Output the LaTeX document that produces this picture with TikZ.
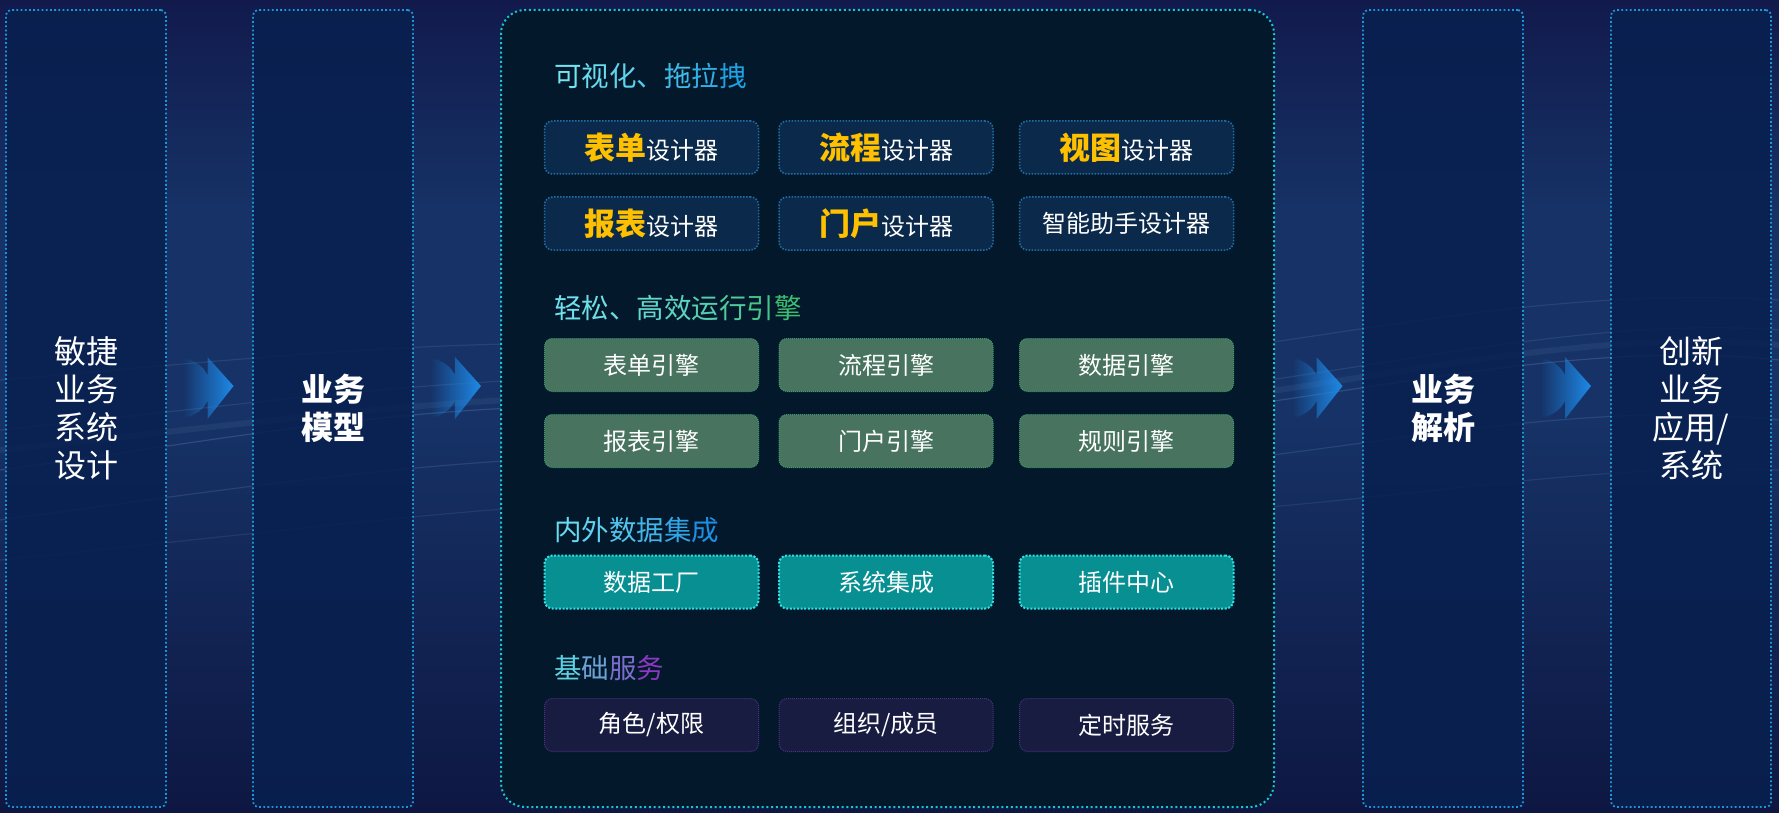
\documentclass[tikz,border=0pt]{standalone}
\usepackage{fontspec}
\setmainfont{Noto Sans CJK SC}
\usetikzlibrary{fadings,calc}
\definecolor{bgtop}{HTML}{121A4C}
\definecolor{bgmid}{HTML}{163266}
\definecolor{bgbot}{HTML}{0E1742}
\definecolor{colfill}{HTML}{08204F}
\definecolor{colborder}{HTML}{1D95D6}
\definecolor{panelfill}{HTML}{03192B}
\definecolor{panelborder}{HTML}{19C5CF}
\definecolor{desfill}{HTML}{0B2A4B}
\definecolor{desborder}{HTML}{1F6FA8}
\definecolor{engfill}{HTML}{47735F}
\definecolor{engborder}{HTML}{3E9F6C}
\definecolor{datfill}{HTML}{078F92}
\definecolor{datborder}{HTML}{2BE3E6}
\definecolor{basfill}{HTML}{181C40}
\definecolor{basborder}{HTML}{4C2F85}
\definecolor{ylw}{HTML}{FFC000}
\definecolor{arrowc}{HTML}{1E8AE8}
\definecolor{streak}{HTML}{9CC4F0}
\definecolor{hAs}{HTML}{74E4F1}
\definecolor{hAe}{HTML}{1FA2E3}
\definecolor{hBs}{HTML}{70E2EF}
\definecolor{hBe}{HTML}{3CBE70}
\definecolor{hCs}{HTML}{68DDF0}
\definecolor{hCe}{HTML}{1E8FE2}
\definecolor{hDs}{HTML}{5ED2E2}
\definecolor{hDe}{HTML}{8B38C2}
\newcommand\gc[4]{\textcolor{#2!#3!#1}{#4}}
\newcommand\des[1]{{\bfseries\color{ylw}\fontsize{31}{31}\selectfont #1}{\fontsize{24}{24}\selectfont 设计器}}
\tikzfading[name=arrowfade, left color=transparent!100, middle color=transparent!35, right color=transparent!0]
\begin{document}
\begin{tikzpicture}[x=1pt,y=-1pt,
  col/.style={draw=colborder, line width=1.8pt, dash pattern=on 1.8pt off 2.4pt,
    fill=colfill, fill opacity=0.85, text opacity=1, rounded corners=5pt,
    minimum width=160pt, minimum height=797pt, inner sep=0pt, text=white,
    align=center, font=\fontsize{32}{38}\selectfont},
  box/.style={rounded corners=8pt, minimum width=214pt, minimum height=53pt,
    inner sep=0pt, text=white, font=\fontsize{24}{24}\selectfont},
  desbox/.style={box, fill=desfill, draw=desborder, line width=1.5pt, dash pattern=on 1.5pt off 1.5pt},
  engbox/.style={box, fill=engfill, draw=engborder, line width=1pt, dash pattern=on 1pt off 1pt},
  datbox/.style={box, fill=datfill, draw=datborder, line width=2pt, dash pattern=on 2pt off 1.6pt},
  basbox/.style={box, fill=basfill, draw=basborder, line width=1pt, dash pattern=on 1pt off 1pt},
  head/.style={anchor=west, inner sep=0pt, font=\fontsize{27.5}{27.5}\selectfont},
  flow/.style={fill=arrowc, path fading=arrowfade}
]
% background
\shade[top color=bgtop, bottom color=bgmid, middle color=bgmid] (0,0) rectangle (1779,420);
\shade[top color=bgmid, bottom color=bgbot] (0,420) rectangle (1779,813);
\useasboundingbox (0,0) rectangle (1779,813);
\begin{scope}[streak, line width=1.2pt]
  \draw[opacity=0.18] (0,470) .. controls (300,430) and (500,380) .. (900,420) .. controls (1200,450) and (1500,330) .. (1779,360);
  \draw[opacity=0.14] (0,520) .. controls (300,480) and (600,430) .. (900,470) .. controls (1200,500) and (1500,390) .. (1779,420);
  \draw[opacity=0.12] (0,380) .. controls (250,360) and (550,320) .. (900,360) .. controls (1200,390) and (1450,280) .. (1779,300);
  \draw[opacity=0.10] (0,560) .. controls (400,520) and (650,480) .. (900,510) .. controls (1250,540) and (1500,460) .. (1779,470);
  \draw[opacity=0.12] (0,430) .. controls (300,400) and (600,350) .. (900,395) .. controls (1200,430) and (1500,310) .. (1779,330);
  \draw[opacity=0.08, line width=6pt] (0,450) .. controls (300,420) and (600,370) .. (900,410) .. controls (1200,440) and (1500,320) .. (1779,345);
\end{scope}

% side columns
\node[col] (c1) at (86,408.5) {敏捷\\业务\\系统\\设计};
\node[col, font=\fontsize{32}{38}\selectfont\bfseries] (c2) at (333,408.5) {业务\\模型};
\node[col, font=\fontsize{32}{38}\selectfont\bfseries] (c4) at (1443,408.5) {业务\\解析};
\node[col] (c5) at (1691,408.5) {创新\\业务\\应用/\\系统};

% central panel
\node[draw=panelborder, line width=2pt, dash pattern=on 2pt off 2.7pt, fill=panelfill,
  rounded corners=24pt, minimum width=773pt, minimum height=797pt, inner sep=0pt] (p) at (887.5,408.5) {};

% flow arrows
\foreach \a/\b/\n in {c1/c2/a1, c2/p/a2, p/c4/a3, c4/c5/a4}{
  \coordinate (\n) at ($(\a.east)!0.5!(\b.west)+(-2,-20.5)$);
  \fill[flow] ($(\n)+(-25,-30)$) .. controls ($(\n)+(-12,-28)$) and ($(\n)+(-4,-21)$) .. ($(\n)+(0,-13)$)
    -- ($(\n)+(0,-31)$) -- ($(\n)+(26,-2)$) -- ($(\n)+(0,31)$) -- ($(\n)+(0,13)$)
    .. controls ($(\n)+(-4,21)$) and ($(\n)+(-12,28)$) .. ($(\n)+(-25,30)$) -- cycle;
}

% headings
\node[head] (h1) at (554,76) {\gc{hAs}{hAe}{0}{可}\gc{hAs}{hAe}{12}{视}\gc{hAs}{hAe}{25}{化}\gc{hAs}{hAe}{40}{、}\gc{hAs}{hAe}{60}{拖}\gc{hAs}{hAe}{80}{拉}\gc{hAs}{hAe}{100}{拽}};
\node[head] (h2) at (554,308) {\gc{hBs}{hBe}{0}{轻}\gc{hBs}{hBe}{8}{松}\gc{hBs}{hBe}{16}{、}\gc{hBs}{hBe}{26}{高}\gc{hBs}{hBe}{38}{效}\gc{hBs}{hBe}{52}{运}\gc{hBs}{hBe}{66}{行}\gc{hBs}{hBe}{82}{引}\gc{hBs}{hBe}{100}{擎}};
\node[head] (h3) at (554,530) {\gc{hCs}{hCe}{0}{内}\gc{hCs}{hCe}{15}{外}\gc{hCs}{hCe}{32}{数}\gc{hCs}{hCe}{50}{据}\gc{hCs}{hCe}{72}{集}\gc{hCs}{hCe}{100}{成}};
\node[head] (h4) at (554,668) {\gc{hDs}{hDe}{0}{基}\gc{hDs}{hDe}{30}{础}\gc{hDs}{hDe}{65}{服}\gc{hDs}{hDe}{100}{务}};

% designer boxes
\node[desbox] (d1) at (651.5,147.5) {\des{表单}};
\node[desbox] (d2) at (886,147.5) {\des{流程}};
\node[desbox] (d3) at (1126.5,147.5) {\des{视图}};
\node[desbox] (d4) at (651.5,223.5) {\des{报表}};
\node[desbox] (d5) at (886,223.5) {\des{门户}};
\node[desbox] (d6) at (1126.5,223.5) {智能助手设计器};

% engine boxes
\node[engbox] (e1) at (651.5,365) {表单引擎};
\node[engbox] (e2) at (886,365) {流程引擎};
\node[engbox] (e3) at (1126.5,365) {数据引擎};
\node[engbox] (e4) at (651.5,441) {报表引擎};
\node[engbox] (e5) at (886,441) {门户引擎};
\node[engbox] (e6) at (1126.5,441) {规则引擎};

% data integration
\node[datbox] (i1) at (651.5,582) {数据工厂};
\node[datbox] (i2) at (886,582) {系统集成};
\node[datbox] (i3) at (1126.5,582) {插件中心};

% basic services
\node[basbox] (b1) at (651.5,725) {角色/权限};
\node[basbox] (b2) at (886,725) {组织/成员};
\node[basbox] (b3) at (1126.5,725) {定时服务};
\end{tikzpicture}
\end{document}
